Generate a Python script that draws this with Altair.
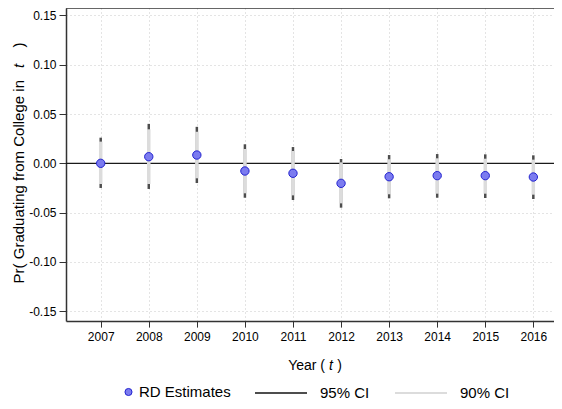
import altair as alt
import pandas as pd

# ---- data ----
years = [2007, 2008, 2009, 2010, 2011, 2012, 2013, 2014, 2015, 2016]
est   = [0.000, 0.0067, 0.0084, -0.0078, -0.0101, -0.0203, -0.0136, -0.0125, -0.0125, -0.0139]
lo95  = [-0.025, -0.026, -0.020, -0.0349, -0.0372, -0.045, -0.0355, -0.0349, -0.0352, -0.0362]
hi95  = [0.026, 0.040, 0.037, 0.0193, 0.0165, 0.0044, 0.0084, 0.0094, 0.0091, 0.0081]
lo90  = [-0.021, -0.021, -0.0152, -0.0304, -0.0325, -0.0406, -0.0314, -0.0308, -0.0308, -0.0318]
hi90  = [0.022, 0.0345, 0.032, 0.0145, 0.0125, 0.001, 0.0041, 0.0051, 0.0047, 0.0037]
y_ticks = [-0.15, -0.10, -0.05, 0.0, 0.05, 0.10, 0.15]
series_names = ["RD Estimates", "95% CI", "90% CI"]
x_title_parts = ["Year (", "t", ")"]
y_title_parts = ["Pr( Graduating from College in", "t", ")"]

df = pd.DataFrame(dict(year=years, est=est, lo95=lo95, hi95=hi95, lo90=lo90, hi90=hi90))

W, H = 488, 313.1
FONT = "Liberation Sans"
xs = alt.Scale(domain=[2006.278, 2016.430], nice=False, zero=False)
ys = alt.Scale(domain=[-0.16, 0.1575], nice=False, zero=False)

xaxis = alt.Axis(values=years, format="d", title=None, labelFontSize=12, tickSize=6,
                 labelPadding=4, grid=True)
yaxis = alt.Axis(values=y_ticks, title=None, labelFontSize=12, tickSize=7, labelPadding=3,
                 grid=True, labelExpr="replace(format(datum.value, '.2f'), '\u2212', '-')")

X = alt.X("year:Q", scale=xs, axis=xaxis)
base = alt.Chart(df)

one = pd.DataFrame({"z": [0]})
zero_line = alt.Chart(one).mark_rule(color="#1a1a1a", strokeWidth=1.2).encode(
    y=alt.Y("z:Q", scale=ys, axis=yaxis))
top_frame = alt.Chart(one).mark_rule(color="#333333", strokeWidth=1.5).encode(
    x=alt.value(0), x2=alt.value(W), y=alt.value(0))

leg_common = dict(orient="none", title=None, labelFontSize=15, labelFont=FONT,
                  labelColor="#000000", padding=0)
LEG_C = 384  # vertical centre of the legend row, plot coordinates

rule95 = base.transform_calculate(k2="'95% CI'").mark_rule(strokeWidth=2.5).encode(
    x=X, y=alt.Y("lo95:Q", scale=ys, axis=yaxis), y2="hi95:Q",
    color=alt.Color("k2:N", scale=alt.Scale(domain=[series_names[1]], range=["#4d4d4d"]),
                    legend=alt.Legend(legendX=188, legendY=LEG_C - 26, symbolType="stroke",
                                      symbolSize=2704, symbolStrokeWidth=2, labelOffset=12,
                                      **leg_common)))
rule90 = base.transform_calculate(k3="'90% CI'").mark_rule(strokeWidth=3.5).encode(
    x=X, y=alt.Y("lo90:Q", scale=ys, axis=yaxis), y2="hi90:Q",
    color=alt.Color("k3:N", scale=alt.Scale(domain=[series_names[2]], range=["#dcdcdc"]),
                    legend=alt.Legend(legendX=328, legendY=LEG_C - 26, symbolType="stroke",
                                      symbolSize=2704, symbolStrokeWidth=2, labelOffset=12,
                                      **leg_common)))
points = base.transform_calculate(k1="'RD Estimates'").mark_point(
    filled=True, size=70, stroke="#2323d0", strokeWidth=1, opacity=1).encode(
    x=X, y=alt.Y("est:Q", scale=ys, axis=yaxis),
    color=alt.Color("k1:N", scale=alt.Scale(domain=[series_names[0]], range=["#7b7bef"]),
                    legend=alt.Legend(legendX=55, legendY=LEG_C - 7.5, symbolType="circle",
                                      symbolSize=50, symbolStrokeColor="#2323d0",
                                      symbolStrokeWidth=1, labelOffset=3, **leg_common)))


def txt(s, x, y, **kw):
    return alt.Chart(pd.DataFrame({"s": [s]})).mark_text(
        font=FONT, color="#000000", baseline="middle", **kw).encode(
        text="s:N", x=alt.value(x), y=alt.value(y))


XT_Y = 358
x_title = [
    txt(x_title_parts[0], 259, XT_Y, align="right", fontSize=14),
    txt(x_title_parts[1], 265, XT_Y, align="center", fontSize=14, fontStyle="italic"),
    txt(x_title_parts[2], 273.5, XT_Y, align="center", fontSize=14),
]
y_title = [
    txt(y_title_parts[0], -47, 72, align="right", angle=270, fontSize=15),
    txt(y_title_parts[1], -47, 58, align="center", angle=270, fontSize=15, fontStyle="italic"),
    txt(y_title_parts[2], -47, 37, align="center", angle=270, fontSize=15),
]

chart = alt.layer(zero_line, top_frame, rule95, rule90, points, *x_title, *y_title).resolve_scale(
    color="independent"
).properties(
    width=W, height=H,
    autosize=alt.AutoSizeParams(type="none"),
    padding={"left": 58, "top": 0, "right": 0, "bottom": 79.9},
).configure_view(stroke=None).configure_axis(
    labelFont=FONT, labelColor="#000000", domainColor="#333333", domainWidth=1.5,
    tickColor="#333333", tickWidth=1, gridColor="#c8c8c8", gridDash=[1, 3], gridWidth=1,
)

chart.save("out.html", embed_options={"renderer": "svg", "actions": False})
